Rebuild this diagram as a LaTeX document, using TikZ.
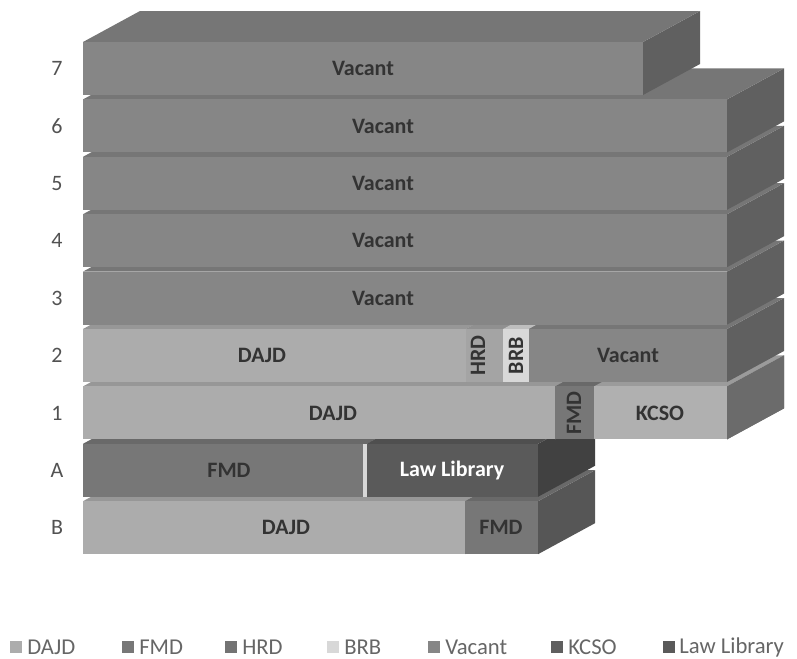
\documentclass[tikz,border=0pt]{standalone}
\usepackage{fontspec}
\setmainfont{Carlito}
\usetikzlibrary{calc}

\definecolor{cVacant}{HTML}{868686}
\definecolor{cDajd}{HTML}{ACACAC}
\definecolor{cFmd}{HTML}{777777}
\definecolor{cHrd}{HTML}{A4A4A4}
\definecolor{cBrb}{HTML}{D8D8D8}
\definecolor{cKcso}{HTML}{B0B0B0}
\definecolor{cLaw}{HTML}{5A5A5A}
\definecolor{cInk}{HTML}{333333}

% one block of a floor: left x, right x, top y, colour
\newcommand{\floorbox}[4]{%
  \fill[#4!72!black] (#2,#3) -- (#2+57,#3-31) -- (#2+57,#3+22) -- (#2,#3+53) -- cycle;
  \fill[#4!88!black] (#1,#3) -- (#1+57,#3-31) -- (#2+57,#3-31) -- (#2,#3) -- cycle;
  \fill[#4] (#1,#3) rectangle (#2,#3+53);
}

\begin{document}
\begin{tikzpicture}[x=0.75pt,y=-0.75pt]
  \tikzstyle{seg}=[font=\bfseries\fontsize{16.5}{18}\selectfont, text=cInk, inner sep=1pt]
  \tikzstyle{vseg}=[seg, rotate=90]
  \tikzstyle{lvl}=[font=\fontsize{16.5}{18}\selectfont, text=cInk!85]
  \tikzstyle{key}=[font=\fontsize{17}{18}\selectfont, text=cInk!75, anchor=west, inner sep=0pt]
  \tikzstyle{keymark}=[minimum size=8.5pt, inner sep=0pt]

  \useasboundingbox (0,0) rectangle (797,658);

  % floors, bottom to top
  \floorbox{83}{465}{501.2}{cDajd}
  \floorbox{465}{538}{501.2}{cFmd}
  \floorbox{83}{367}{443.8}{cFmd}
  \floorbox{367}{538}{443.8}{cLaw}
  \fill[cBrb] (363,443.8) rectangle (367,496.8);
  \floorbox{83}{555}{386.4}{cDajd}
  \floorbox{555}{594}{386.4}{cFmd}
  \floorbox{594}{727}{386.4}{cKcso}
  \fill[cFmd!90!black] (727,386.4) -- (784,355.4) -- (784,408.4) -- (727,439.4) -- cycle;
  \floorbox{83}{466}{329}{cDajd}
  \floorbox{466}{503}{329}{cHrd}
  \floorbox{503}{529}{329}{cBrb}
  \floorbox{529}{727}{329}{cVacant}
  \foreach \t in {271.6,214.2,156.8,99.4}
    \floorbox{83}{727}{\t}{cVacant};
  \floorbox{83}{643}{42}{cVacant}

  % block labels
  \node[seg] (v7) at (363,68.5) {Vacant};
  \node[seg] (v6) at (383,126) {Vacant};
  \node[seg] (v5) at (383,183.3) {Vacant};
  \node[seg] (v4) at (383,240.7) {Vacant};
  \node[seg] (v3) at (383,298.1) {Vacant};
  \node[seg] (dajd2) at (262,355.5) {DAJD};
  \node[vseg] (hrd2) at (478,355.5) {HRD};
  \node[vseg] (brb2) at (516,355.5) {BRB};
  \node[seg] (v2) at (628,355.5) {Vacant};
  \node[seg] (dajd1) at (333,413) {DAJD};
  \node[vseg] (fmd1) at (574,413) {FMD};
  \node[seg] (kcso1) at (660,413) {KCSO};
  \node[seg] (fmdA) at (229,470.3) {FMD};
  \node[seg, text=white] (lawA) at (452,470.3) {Law Library};
  \node[seg] (dajdB) at (286,527.7) {DAJD};
  \node[seg] (fmdB) at (501,527.7) {FMD};

  % floor names
  \node[lvl] (l7) at (57,68.5) {7};
  \node[lvl] (l6) at (57,126) {6};
  \node[lvl] (l5) at (57,183.3) {5};
  \node[lvl] (l4) at (57,240.7) {4};
  \node[lvl] (l3) at (57,298.1) {3};
  \node[lvl] (l2) at (57,355.5) {2};
  \node[lvl] (l1) at (57,413) {1};
  \node[lvl] (lA) at (57,470.3) {A};
  \node[lvl] (lB) at (57,527.7) {B};

  % legend
  \node[keymark, fill=cDajd] (mDajd) at (16,647) {};
  \node[key] (kDajd) at (27,647) {DAJD};
  \node[keymark, fill=cFmd] (mFmd) at (128,647) {};
  \node[key] (kFmd) at (139,647) {FMD};
  \node[keymark, fill=cHrd!70!black] (mHrd) at (231,647) {};
  \node[key] (kHrd) at (242,647) {HRD};
  \node[keymark, fill=cBrb] (mBrb) at (333,647) {};
  \node[key] (kBrb) at (344,647) {BRB};
  \node[keymark, fill=cVacant] (mVacant) at (434,647) {};
  \node[key] (kVacant) at (445,647) {Vacant};
  \node[keymark, fill=cFmd!80!black] (mKcso) at (557,647) {};
  \node[key] (kKcso) at (568,647) {KCSO};
  \node[keymark, fill=cLaw] (mLaw) at (669,647) {};
  \node[key] (kLaw) at (679,647) {Law Library};
\end{tikzpicture}
\end{document}
